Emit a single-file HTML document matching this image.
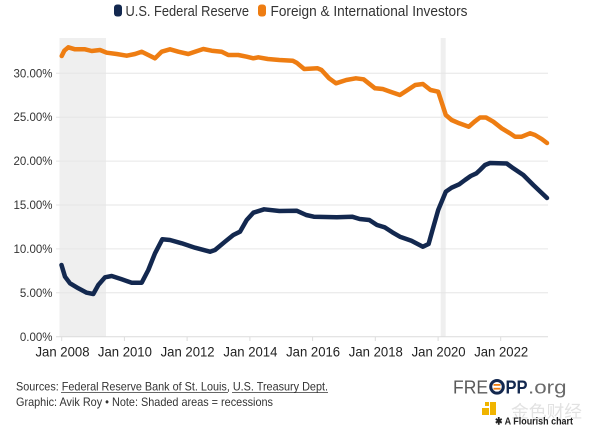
<!DOCTYPE html>
<html>
<head>
<meta charset="utf-8">
<style>
  html,body{margin:0;padding:0;background:#fff;}
  svg{display:block;}
  text{font-family:"Liberation Sans","Noto Sans CJK SC",sans-serif;}
</style>
</head>
<body>
<svg width="600" height="435" viewBox="0 0 600 435" xmlns="http://www.w3.org/2000/svg">
  <rect width="600" height="435" fill="#fff"/>

  <!-- Legend -->
  <rect x="114" y="4.5" width="8" height="12" rx="3" fill="#13284f"/>
  <text x="125.5" y="16" font-size="14.5" fill="#333" textLength="123.5" lengthAdjust="spacingAndGlyphs">U.S. Federal Reserve</text>
  <rect x="258" y="4.5" width="8" height="12" rx="3" fill="#ee7d12"/>
  <text x="270.5" y="16" font-size="14.5" fill="#333" textLength="197" lengthAdjust="spacingAndGlyphs">Foreign &amp; International Investors</text>

  <!-- Recession shading -->
  <rect x="59.5" y="38" width="46.5" height="298.7" fill="#efefef"/>
  <rect x="440.7" y="38" width="5" height="298.7" fill="#efefef"/>

  <!-- Gridlines -->
  <g stroke="#e6e6e6" stroke-width="1">
    <line x1="56" y1="73.3" x2="548" y2="73.3"/>
    <line x1="56" y1="117.2" x2="548" y2="117.2"/>
    <line x1="56" y1="161.1" x2="548" y2="161.1"/>
    <line x1="56" y1="205" x2="548" y2="205"/>
    <line x1="56" y1="248.9" x2="548" y2="248.9"/>
    <line x1="56" y1="292.8" x2="548" y2="292.8"/>
  </g>
  <line x1="56" y1="336.7" x2="548" y2="336.7" stroke="#dcdcdc" stroke-width="1"/>
  <!-- x ticks -->
  <g stroke="#dcdcdc" stroke-width="1">
    <line x1="61.7" y1="336.7" x2="61.7" y2="341"/>
    <line x1="124.4" y1="336.7" x2="124.4" y2="341"/>
    <line x1="187.1" y1="336.7" x2="187.1" y2="341"/>
    <line x1="249.9" y1="336.7" x2="249.9" y2="341"/>
    <line x1="312.6" y1="336.7" x2="312.6" y2="341"/>
    <line x1="375.3" y1="336.7" x2="375.3" y2="341"/>
    <line x1="438.1" y1="336.7" x2="438.1" y2="341"/>
    <line x1="500.7" y1="336.7" x2="500.7" y2="341"/>
  </g>

  <!-- Y labels -->
  <g font-size="11.5" fill="#333" text-anchor="end">
    <text x="52.5" y="77.3">30.00%</text>
    <text x="52.5" y="121.2">25.00%</text>
    <text x="52.5" y="165.1">20.00%</text>
    <text x="52.5" y="209">15.00%</text>
    <text x="52.5" y="252.9">10.00%</text>
    <text x="52.5" y="296.8">5.00%</text>
    <text x="52.5" y="340.9">0.00%</text>
  </g>

  <!-- X labels -->
  <g font-size="14" fill="#222" text-anchor="middle">
    <text x="62.5" y="356.5" textLength="54" lengthAdjust="spacingAndGlyphs">Jan 2008</text>
    <text x="124.9" y="356.5" textLength="54" lengthAdjust="spacingAndGlyphs">Jan 2010</text>
    <text x="187.6" y="356.5" textLength="54" lengthAdjust="spacingAndGlyphs">Jan 2012</text>
    <text x="250.4" y="356.5" textLength="54" lengthAdjust="spacingAndGlyphs">Jan 2014</text>
    <text x="313.1" y="356.5" textLength="54" lengthAdjust="spacingAndGlyphs">Jan 2016</text>
    <text x="375.8" y="356.5" textLength="54" lengthAdjust="spacingAndGlyphs">Jan 2018</text>
    <text x="438.6" y="356.5" textLength="54" lengthAdjust="spacingAndGlyphs">Jan 2020</text>
    <text x="501.2" y="356.5" textLength="54" lengthAdjust="spacingAndGlyphs">Jan 2022</text>
  </g>

  <!-- Foreign & International (orange) -->
  <polyline fill="none" stroke="#ee7d12" stroke-width="4.5" stroke-linejoin="round" stroke-linecap="round"
    points="61.7,56 64.3,50.7 68.3,47.3 75,49.3 85,49.3 91.7,51 100,50 106.7,52.7 116.7,54 126.7,55.7 135,54 141.7,51.7 148.3,55 155,58.3 161.7,51.7 170,49.3 178.3,51.7 188.3,54 195,51.7 203.3,49 211.7,50.7 221.7,51.7 228.3,55 238.3,55 246.7,56.7 253.3,58.3 258.3,57.3 267.9,59 279.4,60 292.8,60.7 296.6,62.7 304.2,69 317.6,68.3 321.5,70 329.1,78.3 336,83.3 346.3,80 355.9,78.3 363.6,79.3 375,88.3 382.7,89 390.4,91.7 399.9,95 407.6,90 415.2,85 422.9,84 430.5,90 438.2,91.7 445.8,115 451.6,120 459.2,123.3 468.8,126.7 474.5,121.7 480,117.5 486,117.5 493.3,121.7 501.7,128.3 510,133.3 515,136.7 521.7,136.7 530,133.3 535,135 541.7,139 547,143"/>

  <!-- Fed (navy) -->
  <polyline fill="none" stroke="#13284f" stroke-width="4.5" stroke-linejoin="round" stroke-linecap="round"
    points="61.5,265 65,276.7 70,283.3 78.3,288.3 86.7,292.7 93.3,294 98.3,285 105,277.3 111.7,276 121.7,279.3 131.7,282.7 141.7,282.7 148.3,270 155,253.3 162.3,239.3 170,240 181.7,243.3 195,247.7 210,251.7 215,250 225,241.7 233.3,235 240,231.7 246.7,220 253.3,212.7 264.1,209.3 279.4,211 296.6,210.7 306.2,215 313.8,216.7 336.8,217.3 352.1,216.7 359.7,219 369.3,220 377,225 384.6,227.3 392.3,232.3 399.9,236.7 411.4,240.7 422.9,246.7 428.6,244 432.5,230 438.2,210 445.8,191.7 451.6,187.7 459.2,184.3 465,180 470.7,176 476.5,173.3 480,170 485,165 490,163 506.7,163.5 513.3,168.3 523.3,175 533.3,185 547,198"/>

  <!-- Footer -->
  <text x="16" y="390.5" font-size="11.8" fill="#333" textLength="312" lengthAdjust="spacingAndGlyphs">Sources: Federal Reserve Bank of St. Louis, U.S. Treasury Dept.</text>
  <line x1="61" y1="392.5" x2="228" y2="392.5" stroke="#333" stroke-width="0.8"/>
  <line x1="232" y1="392.5" x2="328" y2="392.5" stroke="#333" stroke-width="0.8"/>
  <text x="16" y="406" font-size="11.8" fill="#333" textLength="257" lengthAdjust="spacingAndGlyphs">Graphic: Avik Roy • Note: Shaded areas = recessions</text>

  <!-- FREOPP logo -->
  <text x="453" y="393.5" font-size="18.5" fill="#5a5a5a" textLength="35" lengthAdjust="spacingAndGlyphs">FRE</text>
  <circle cx="497" cy="386.8" r="6.3" fill="none" stroke="#13284f" stroke-width="3"/>
  <rect x="493.5" y="384" width="7" height="1.8" fill="#ee7d12"/>
  <rect x="493.5" y="387.8" width="7" height="1.8" fill="#ee7d12"/>
  <text x="505.5" y="393.5" font-size="18.5" fill="#13284f" font-weight="bold" textLength="22" lengthAdjust="spacingAndGlyphs">PP</text>
  <text x="528" y="393.5" font-size="18.5" fill="#6a6a6a" textLength="38.5" lengthAdjust="spacingAndGlyphs">.org</text>

  <!-- watermark -->
  <rect x="482" y="408" width="7" height="7" fill="#f0b400"/>
  <rect x="490" y="402" width="6" height="13" fill="#f0b400"/>
  <rect x="485" y="402" width="4" height="4" fill="#f0b400"/>
  <text x="511" y="417.5" font-size="17" fill="#e2e2e2" textLength="71" lengthAdjust="spacingAndGlyphs" font-family="'Noto Sans CJK SC',sans-serif">金色财经</text>
  <text x="495" y="424.5" font-size="10" fill="#222" font-weight="bold" textLength="78" lengthAdjust="spacingAndGlyphs">✱ A Flourish chart</text>
</svg>
</body>
</html>
